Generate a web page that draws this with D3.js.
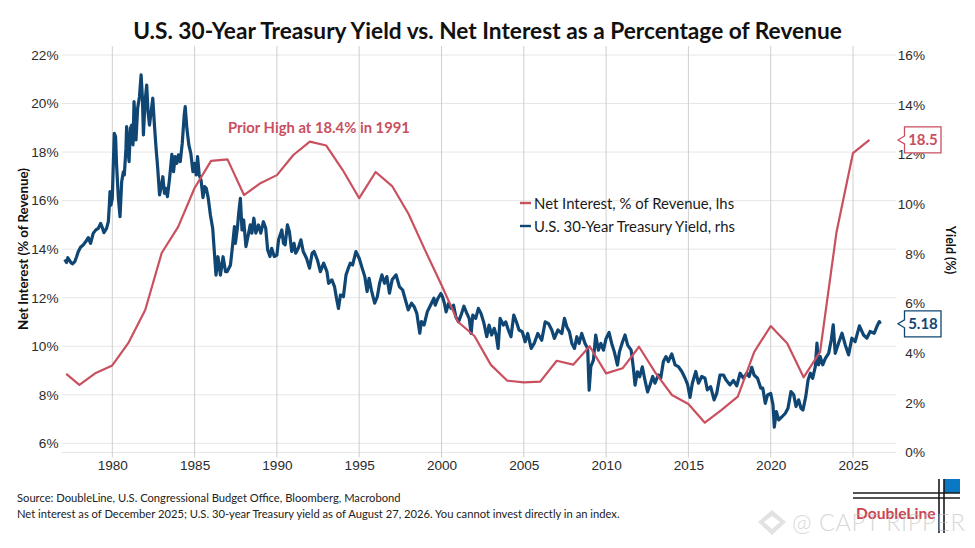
<!DOCTYPE html>
<html>
<head>
<meta charset="utf-8">
<script src="https://cdnjs.cloudflare.com/ajax/libs/d3/7.8.5/d3.min.js"></script>
<style>
body { margin: 0; background: #fff; }
svg { display: block; font-family: Lato, sans-serif; }
.tick text { font-size: 13.6px; fill: #2b2b2b; }
</style>
</head>
<body>
<div id="chart"></div>
<script>
var interestYears = [1977.2,1978,1979,1980,1981,1982,1983,1984,1985,1986,1987,1988,1989,1990,1991,1992,1993,1994,1995,1996,1997,1998,1999,2000,2001,2002,2003,2004,2005,2006,2007,2008,2009,2010,2011,2012,2013,2014,2015,2016,2017,2018,2019,2020,2021,2022,2023,2024,2025,2026];
var interestValues = [8.86,8.41,8.9,9.21,10.16,11.49,13.84,14.92,16.52,17.64,17.7,16.23,16.72,17.05,17.88,18.43,18.27,17.26,16.1,17.18,16.6,15.45,13.96,12.52,11.01,10.42,9.23,8.58,8.51,8.54,9.4,9.24,10.0,8.88,9.09,9.98,8.9,7.99,7.62,6.85,7.37,7.92,9.77,10.83,10.12,8.72,9.77,14.71,17.96,18.5];

// 30y yield, [year, %]
var yieldPoints = [
[1977.11,7.77],[1977.22,7.65],[1977.3,7.84],[1977.38,7.75],[1977.48,7.65],[1977.58,7.59],[1977.72,7.68],[1977.83,7.88],[1977.93,8.08],
[1978.07,8.26],[1978.23,8.35],[1978.39,8.49],[1978.54,8.65],[1978.68,8.42],[1978.84,8.82],[1979,8.96],[1979.15,9.02],[1979.29,9.22],[1979.41,9.02],[1979.49,8.85],[1979.65,9.02],[1979.76,9.29],[1979.82,9.96],[1979.86,10.5],[1979.92,9.96],
[1980,10.23],[1980.06,11.57],[1980.12,12.85],[1980.2,12.71],[1980.26,11.57],[1980.37,10.23],[1980.47,9.49],[1980.57,10.9],[1980.67,11.3],[1980.73,11.17],[1980.83,12.24],[1980.87,13.12],[1980.96,12.11],
[1981.02,11.71],[1981.1,13.05],[1981.18,13.18],[1981.26,12.38],[1981.32,14.12],[1981.44,12.58],[1981.54,13.86],[1981.65,14.32],[1981.75,15.2],[1981.83,14.26],[1981.89,12.78],[1981.99,14.12],
[1982.09,14.79],[1982.17,13.72],[1982.26,13.18],[1982.36,13.72],[1982.46,14.26],[1982.56,13.18],[1982.66,12.24],[1982.76,11.44],[1982.87,10.37],[1982.97,10.7],
[1983.07,11.1],[1983.17,10.43],[1983.25,10.63],[1983.35,10.3],[1983.48,11.04],[1983.62,12],[1983.72,11.3],[1983.82,11.91],[1983.92,11.64],
[1984.02,11.98],[1984.13,11.71],[1984.25,12.45],[1984.37,13.59],[1984.43,13.92],[1984.53,13.05],[1984.65,12.38],[1984.77,12.04],[1984.9,11.3],
[1985,11.64],[1985.1,11.17],[1985.18,11.91],[1985.28,11.17],[1985.39,10.97],[1985.51,10.26],[1985.61,10.7],[1985.71,10.63],[1985.83,10.23],[1985.96,9.56],
[1986.1,9.02],[1986.2,8.08],[1986.3,7.14],[1986.42,7.88],[1986.57,7.14],[1986.73,7.88],[1986.88,7.28],[1986.98,7.28],
[1987.18,7.55],[1987.32,8.42],[1987.42,9.09],[1987.48,8.42],[1987.6,9.03],[1987.68,9.63],[1987.78,10.23],[1987.88,8.96],[1987.98,9.36],
[1988.12,8.29],[1988.24,8.69],[1988.38,9.16],[1988.48,8.83],[1988.6,9.43],[1988.72,8.83],[1988.88,9.16],
[1989.02,8.83],[1989.18,9.29],[1989.32,9.03],[1989.44,8.15],[1989.58,7.89],[1989.68,8.22],[1989.84,7.89],
[1990,7.95],[1990.1,8.56],[1990.3,8.96],[1990.4,8.42],[1990.5,8.36],[1990.64,9.16],[1990.76,8.89],[1990.9,8.09],
[1991.04,8.42],[1991.14,8.02],[1991.3,8.22],[1991.46,8.56],[1991.6,8.09],[1991.8,7.82],[1991.98,7.42],
[1992.14,8.02],[1992.26,8.09],[1992.46,7.75],[1992.64,7.28],[1992.84,7.62],
[1993.04,7.28],[1993.14,6.81],[1993.34,6.95],[1993.5,6.68],[1993.62,6.21],[1993.74,5.8],[1993.86,6.34],
[1994.04,6.27],[1994.2,7.15],[1994.34,7.42],[1994.46,7.62],[1994.6,7.55],[1994.8,8.09],
[1995,7.82],[1995.18,7.42],[1995.34,7.08],[1995.48,6.48],[1995.6,7.01],[1995.74,6.54],[1995.94,6.01],
[1996.1,6.27],[1996.24,6.81],[1996.38,7.15],[1996.54,6.81],[1996.68,7.08],[1996.84,6.41],
[1997,6.95],[1997.24,7.15],[1997.44,6.68],[1997.64,6.54],[1997.84,6.07],[1997.98,5.74],
[1998.18,6.01],[1998.34,5.87],[1998.5,5.6],[1998.68,4.8],[1998.78,5.27],[1998.94,5.13],
[1999.14,5.67],[1999.34,5.94],[1999.54,6.21],[1999.62,5.93],[1999.78,6.2],[1999.96,6.4],
[2000.06,6.27],[2000.18,6],[2000.28,5.66],[2000.43,6],[2000.59,5.8],[2000.73,5.93],[2000.87,5.46],
[2001.03,5.26],[2001.19,5.53],[2001.36,5.89],[2001.54,5.6],[2001.68,5.4],[2001.8,4.79],[2001.9,5.53],
[2002.08,5.4],[2002.24,5.8],[2002.4,5.6],[2002.58,5.2],[2002.75,4.66],[2002.89,5.13],
[2003.05,4.73],[2003.2,5],[2003.32,4.73],[2003.44,4.19],[2003.56,5.4],[2003.76,5.13],[2003.9,5.26],
[2004.06,4.93],[2004.22,4.66],[2004.39,5.53],[2004.55,5.26],[2004.71,4.93],[2004.91,4.86],
[2005.08,4.46],[2005.24,4.79],[2005.45,4.19],[2005.63,4.39],[2005.85,4.79],
[2006.09,4.52],[2006.3,5.26],[2006.5,5.19],[2006.7,4.93],[2006.86,4.59],
[2007.07,4.93],[2007.31,4.79],[2007.47,5.4],[2007.61,5.06],[2007.77,4.86],[2007.92,4.39],
[2008.08,4.19],[2008.22,4.66],[2008.36,4.39],[2008.52,4.79],[2008.72,4.39],[2008.88,4.19],[2008.97,2.51],
[2009.07,3.45],[2009.23,3.72],[2009.37,4.73],[2009.53,4.12],[2009.68,4.39],[2009.84,4.12],
[2010,4.59],[2010.18,4.83],[2010.34,4.39],[2010.5,4.05],[2010.69,3.52],[2010.81,4.05],
[2011,4.46],[2011.15,4.73],[2011.31,4.32],[2011.52,4.12],[2011.66,3.38],[2011.76,2.71],[2011.9,3.25],
[2012.04,3.05],[2012.2,3.45],[2012.36,2.91],[2012.52,2.44],[2012.67,2.72],[2012.83,3.06],[2012.97,2.79],
[2013.17,3.12],[2013.32,2.99],[2013.48,3.66],[2013.64,3.86],[2013.78,3.66],[2013.99,3.97],
[2014.19,3.53],[2014.39,3.46],[2014.6,3.26],[2014.8,2.99],[2014.96,2.72],
[2015.1,2.22],[2015.24,2.79],[2015.45,3.26],[2015.61,2.79],[2015.81,3.06],
[2016.01,2.99],[2016.15,2.52],[2016.35,2.65],[2016.56,2.12],[2016.72,2.38],[2016.92,3.12],
[2017.13,3.12],[2017.29,2.92],[2017.53,2.72],[2017.73,2.9],[2017.94,2.68],
[2018.14,3.19],[2018.34,2.99],[2018.55,3.19],[2018.69,3.06],[2018.85,3.43],[2018.99,3.12],
[2019.2,2.99],[2019.4,2.59],[2019.52,2.59],[2019.67,1.98],[2019.81,2.32],
[2020,2.38],[2020.14,1.91],[2020.22,1.02],[2020.34,1.65],[2020.49,1.31],[2020.69,1.44],[2020.89,1.58],
[2021.05,1.78],[2021.23,2.45],[2021.4,2.32],[2021.54,1.85],[2021.7,2.12],[2021.84,1.78],[2021.96,1.71],
[2022.13,2.25],[2022.27,2.92],[2022.41,3.19],[2022.55,2.99],[2022.71,3.46],[2022.81,4.4],[2022.91,3.53],
[2023.01,3.86],[2023.16,3.53],[2023.32,3.79],[2023.52,3.99],[2023.68,4.53],[2023.8,5.14],[2023.92,3.99],
[2024.12,4.4],[2024.33,4.8],[2024.53,4.33],[2024.73,3.93],[2024.93,4.6],
[2025.13,4.46],[2025.39,5.1],[2025.64,4.73],[2025.84,4.6],
[2026.04,4.87],[2026.29,4.8],[2026.45,5.07],[2026.6,5.27],[2026.66,5.18]
];

var xTicks = [1980,1985,1990,1995,2000,2005,2010,2015,2020,2025];
var leftTicks = [6,8,10,12,14,16,18,20,22];
var rightTicks = [0,2,4,6,8,10,12,14,16];
var legendLabels = ["Net Interest, % of Revenue, lhs","U.S. 30-Year Treasury Yield, rhs"];

var red = "#c9505f";
var navy = "#0f4673";
var width = 975, height = 548;

var svg = d3.select("#chart").append("svg")
    .attr("width", width)
    .attr("height", height);

// pixel anchors measured from the gridlines
var x = d3.scaleLinear().domain([1980, 2025]).range([112.3, 853]);
var yLeft = d3.scaleLinear().domain([6, 22]).range([443.3, 55]);
var yRight = d3.scaleLinear().domain([0, 16]).range([452.5, 55]);
var plotLeft = 62, plotRight = 896, plotBottom = 452.5, plotTop = 46;

// grid
svg.append("g").selectAll("line").data(leftTicks).enter().append("line")
    .attr("x1", plotLeft).attr("x2", plotRight)
    .attr("y1", function(d){ return yLeft(d); }).attr("y2", function(d){ return yLeft(d); })
    .attr("stroke", "#e6e6e6").attr("stroke-width", 1);
svg.append("line")
    .attr("x1", plotLeft).attr("x2", plotRight)
    .attr("y1", plotBottom).attr("y2", plotBottom)
    .attr("stroke", "#e6e6e6");
svg.append("g").selectAll("line").data(xTicks).enter().append("line")
    .attr("x1", function(d){ return x(d); }).attr("x2", function(d){ return x(d); })
    .attr("y1", plotTop).attr("y2", plotBottom + 5)
    .attr("stroke", "#cfcfcf").attr("stroke-width", 1);

// axes
var xAxis = d3.axisBottom(x).tickValues(xTicks).tickFormat(d3.format("d")).tickSize(0).tickPadding(8);
var leftAxis = d3.axisLeft(yLeft).tickValues(leftTicks).tickFormat(function(d){ return d + "%"; }).tickSize(0).tickPadding(3.5);
var rightAxis = d3.axisRight(yRight).tickValues(rightTicks).tickFormat(function(d){ return d + "%"; }).tickSize(0).tickPadding(29);

svg.append("g").attr("transform", "translate(0," + plotBottom + ")").call(xAxis)
    .call(function(g){ g.select(".domain").remove(); });
svg.append("g").attr("transform", "translate(" + plotLeft + ",0)").call(leftAxis)
    .call(function(g){ g.select(".domain").remove(); });
// right labels are right aligned in the reference
svg.append("g").attr("transform", "translate(" + plotRight + ",0)").call(rightAxis)
    .call(function(g){
        g.select(".domain").remove();
        g.selectAll(".tick text").attr("text-anchor", "end");
    });

// lines
var interestLine = d3.line()
    .x(function(d, i){ return x(interestYears[i]); })
    .y(function(d){ return yLeft(d); });
var yieldLine = d3.line()
    .x(function(d){ return x(d[0]); })
    .y(function(d){ return yRight(d[1]); });

svg.append("path").datum(yieldPoints)
    .attr("d", yieldLine)
    .attr("fill", "none").attr("stroke", navy).attr("stroke-width", 3.2).attr("stroke-linejoin", "round");
svg.append("path").datum(interestValues)
    .attr("d", interestLine)
    .attr("fill", "none").attr("stroke", red).attr("stroke-width", 2.2).attr("stroke-linejoin", "round");

// title and axis titles
svg.append("text")
    .attr("x", 487.5).attr("y", 38.5)
    .attr("text-anchor", "middle")
    .attr("font-size", 22.7).attr("font-weight", 700).attr("fill", "#111")
    .text("U.S. 30-Year Treasury Yield vs. Net Interest as a Percentage of Revenue");

svg.append("text")
    .attr("transform", "translate(28,249) rotate(-90)")
    .attr("text-anchor", "middle")
    .attr("font-size", 13.3).attr("font-weight", 700).attr("fill", "#111")
    .text("Net Interest (% of Revenue)");
svg.append("text")
    .attr("transform", "translate(946,250) rotate(90)")
    .attr("text-anchor", "middle")
    .attr("font-size", 12.5).attr("font-weight", 700).attr("fill", "#111")
    .text("Yield (%)");

svg.append("text")
    .attr("x", 228).attr("y", 133)
    .attr("font-size", 14.8).attr("font-weight", 700).attr("fill", red)
    .text("Prior High at 18.4% in 1991");

// legend
legendLabels.forEach(function(label, i){
    var ly = 203 + i * 23;
    svg.append("line")
        .attr("x1", 520).attr("x2", 531).attr("y1", ly).attr("y2", ly)
        .attr("stroke", i == 0 ? red : navy).attr("stroke-width", 2.4);
    svg.append("text")
        .attr("x", 534).attr("y", ly + 6)
        .attr("font-size", 14.9).attr("fill", "#1a1a1a")
        .text(label);
});

// end value callouts
function callout(label, yMid, color){
    var top = yMid - 13, bottom = yMid + 13;
    var pts = [[898,yMid],[904.5,yMid-4],[904.5,top],[941,top],[941,bottom],[904.5,bottom],[904.5,yMid+4]];
    svg.append("path")
        .attr("d", d3.line()(pts) + "Z")
        .attr("fill", "#fff").attr("stroke", color).attr("stroke-width", 1.3);
    svg.append("text")
        .attr("x", 923).attr("y", yMid + 5.5)
        .attr("text-anchor", "middle")
        .attr("font-size", 15).attr("font-weight", 700).attr("fill", color)
        .text(label);
}
callout("18.5", yLeft(18.5), red);
callout("5.18", yRight(5.18) , navy);

// footer
svg.append("text").attr("x", 17).attr("y", 502)
    .attr("font-size", 11.2).attr("fill", "#222")
    .text("Source: DoubleLine, U.S. Congressional Budget Office, Bloomberg, Macrobond");
svg.append("text").attr("x", 17).attr("y", 518)
    .attr("font-size", 11.2).attr("fill", "#222")
    .text("Net interest as of December 2025; U.S. 30-year Treasury yield as of August 27, 2026. You cannot invest directly in an index.");

// logo
svg.append("text").attr("x", 856).attr("y", 519)
    .attr("font-size", 15.6).attr("font-weight", 700).attr("fill", "#c9444f")
    .text("DoubleLine");
svg.append("rect").attr("x", 944).attr("y", 479).attr("width", 16).attr("height", 14).attr("fill", "#0b78c4");
[493, 498].forEach(function(ly){
    svg.append("line").attr("x1", 853).attr("x2", 960).attr("y1", ly).attr("y2", ly)
        .attr("stroke", "#1a1a1a").attr("stroke-width", 1.6);
});
[939, 944].forEach(function(lx){
    svg.append("line").attr("x1", lx).attr("x2", lx).attr("y1", 479).attr("y2", 533)
        .attr("stroke", "#1a1a1a").attr("stroke-width", 1.6);
});

// watermark
var wm = svg.append("g").attr("opacity", 0.6);
wm.append("path")
    .attr("d", "M772,510 L786,522 L772,535 L758,522 Z M772,516 L780,522 L772,529 L764,522 Z")
    .attr("fill", "#cfcfcf").attr("fill-rule", "evenodd");
wm.append("text").attr("x", 792).attr("y", 531)
    .attr("font-size", 23.5).attr("font-weight", 300).attr("fill", "#bdbdbd").attr("letter-spacing", 0.6)
    .text("@ CAPT RIPPER");
</script>
</body>
</html>
